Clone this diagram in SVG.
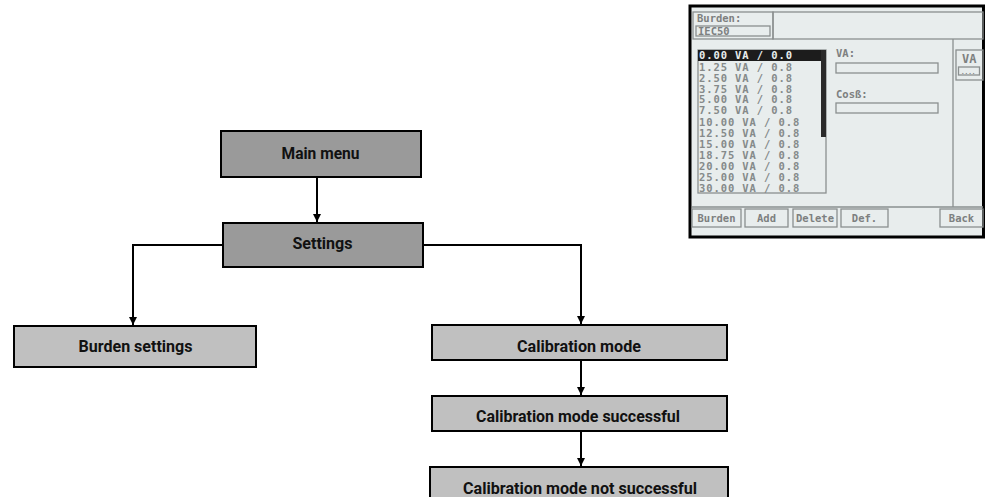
<svg xmlns="http://www.w3.org/2000/svg" width="985" height="497" viewBox="0 0 985 497">
  <defs>
    <style>
      .dark { fill: #9a9a9a; stroke: #000; stroke-width: 2; }
      .light { fill: #c0c0c0; stroke: #000; stroke-width: 2; }
      .lbl { font-family: Roboto, "Liberation Sans", sans-serif; font-weight: bold; font-size: 16.5px; fill: #111; text-anchor: middle; }
      .conn { fill: none; stroke: #000; stroke-width: 2; }
      .scr { fill: none; stroke: #8a8f8f; stroke-width: 1.3; }
      .mono { font-family: "DejaVu Sans Mono", "Liberation Mono", monospace; font-weight: bold; font-size: 10.5px; fill: #7d8080; }
      .row { font-family: "DejaVu Sans Mono", "Liberation Mono", monospace; font-weight: bold; font-size: 10.5px; fill: #858a8a; letter-spacing: 0.9px; }
    </style>
    <marker id="ah" viewBox="0 0 10 10" refX="10" refY="5" markerWidth="8" markerHeight="9" markerUnits="userSpaceOnUse" orient="auto">
      <path d="M0,0 L10,5 L0,10 Z" fill="#000"/>
    </marker>
  </defs>

  <rect width="985" height="497" fill="#fff"/>

  <!-- screenshot inset -->
  <g id="screen">
    <rect x="690" y="6" width="293.5" height="231" fill="#e8eded" stroke="#000" stroke-width="3"/>
    <rect x="693" y="12" width="80" height="27" class="scr"/>
    <rect x="773" y="12" width="210" height="27" class="scr"/>
    <text x="697" y="22" class="mono">Burden:</text>
    <rect x="696" y="26" width="74" height="10" class="scr"/>
    <text x="698" y="34.5" class="mono">IEC50</text>
    <line x1="953" y1="39" x2="953" y2="207" class="scr"/>
    <line x1="692" y1="207" x2="983" y2="207" class="scr"/>
    <rect x="956" y="50" width="27" height="30" class="scr"/>
    <text x="962" y="63" class="mono" style="font-size:12px">VA</text>
    <rect x="958.5" y="67" width="21" height="8" class="scr"/>
    <text x="961" y="74" class="mono" style="font-size:6px">....</text>
    <rect x="698" y="50" width="128" height="143" class="scr"/>
    <rect x="698" y="50" width="128" height="11" fill="#1c1c1c"/>
    <rect x="821" y="50" width="5" height="87" fill="#2a2a2a"/>
    <text x="699" y="59" class="row" style="fill:#e8eded">0.00 VA / 0.0</text>
    <text x="699" y="70.5" class="row">1.25 VA / 0.8</text>
    <text x="699" y="81.5" class="row">2.50 VA / 0.8</text>
    <text x="699" y="92.5" class="row">3.75 VA / 0.8</text>
    <text x="699" y="103" class="row">5.00 VA / 0.8</text>
    <text x="699" y="114" class="row">7.50 VA / 0.8</text>
    <text x="699" y="125.5" class="row">10.00 VA / 0.8</text>
    <text x="699" y="136.5" class="row">12.50 VA / 0.8</text>
    <text x="699" y="147.5" class="row">15.00 VA / 0.8</text>
    <text x="699" y="158.5" class="row">18.75 VA / 0.8</text>
    <text x="699" y="169.5" class="row">20.00 VA / 0.8</text>
    <text x="699" y="180.5" class="row">25.00 VA / 0.8</text>
    <text x="699" y="191.5" class="row">30.00 VA / 0.8</text>
    <text x="836" y="57" class="mono">VA:</text>
    <rect x="836" y="63" width="102" height="10" class="scr"/>
    <text x="836" y="98" class="mono">Cosß:</text>
    <rect x="836" y="103" width="102" height="10" class="scr"/>
    <rect x="692" y="209" width="49" height="18" class="scr"/>
    <text x="716.5" y="222" class="mono" text-anchor="middle">Burden</text>
    <rect x="745" y="209" width="43" height="18" class="scr"/>
    <text x="766.5" y="222" class="mono" text-anchor="middle">Add</text>
    <rect x="793" y="209" width="44" height="18" class="scr"/>
    <text x="815" y="222" class="mono" text-anchor="middle">Delete</text>
    <rect x="841" y="209" width="47" height="18" class="scr"/>
    <text x="864.5" y="222" class="mono" text-anchor="middle">Def.</text>
    <rect x="940" y="209" width="43" height="18" class="scr"/>
    <text x="961.5" y="222" class="mono" text-anchor="middle">Back</text>
  </g>

  <!-- connectors -->
  <g id="connectors">
    <path d="M317,177 V222" class="conn" marker-end="url(#ah)"/>
    <path d="M222,245 H133 V325" class="conn" marker-end="url(#ah)"/>
    <path d="M423,245 H581 V324" class="conn" marker-end="url(#ah)"/>
    <path d="M581,360 V395" class="conn" marker-end="url(#ah)"/>
    <path d="M581,431 V466" class="conn" marker-end="url(#ah)"/>
  </g>

  <!-- nodes -->
  <g id="main-menu">
    <rect x="221" y="131" width="200" height="46" class="dark"/>
    <text x="320.5" y="158.5" class="lbl" textLength="78" lengthAdjust="spacingAndGlyphs">Main menu</text>
  </g>
  <g id="settings">
    <rect x="223" y="223" width="200" height="44" class="dark"/>
    <text x="322.5" y="249" class="lbl" textLength="60" lengthAdjust="spacingAndGlyphs">Settings</text>
  </g>
  <g id="burden-settings">
    <rect x="14" y="326" width="242" height="41" class="light"/>
    <text x="135.5" y="352" class="lbl" textLength="114" lengthAdjust="spacingAndGlyphs">Burden settings</text>
  </g>
  <g id="calibration-mode">
    <rect x="432" y="325" width="295" height="35" class="light"/>
    <text x="579" y="351.5" class="lbl" textLength="124" lengthAdjust="spacingAndGlyphs">Calibration mode</text>
  </g>
  <g id="calibration-successful">
    <rect x="432" y="396" width="295" height="35" class="light"/>
    <text x="578" y="421.5" class="lbl" textLength="204" lengthAdjust="spacingAndGlyphs">Calibration mode successful</text>
  </g>
  <g id="calibration-not-successful">
    <rect x="430" y="467" width="298" height="40" class="light"/>
    <text x="580" y="494" class="lbl" textLength="234" lengthAdjust="spacingAndGlyphs">Calibration mode not successful</text>
  </g>
</svg>
